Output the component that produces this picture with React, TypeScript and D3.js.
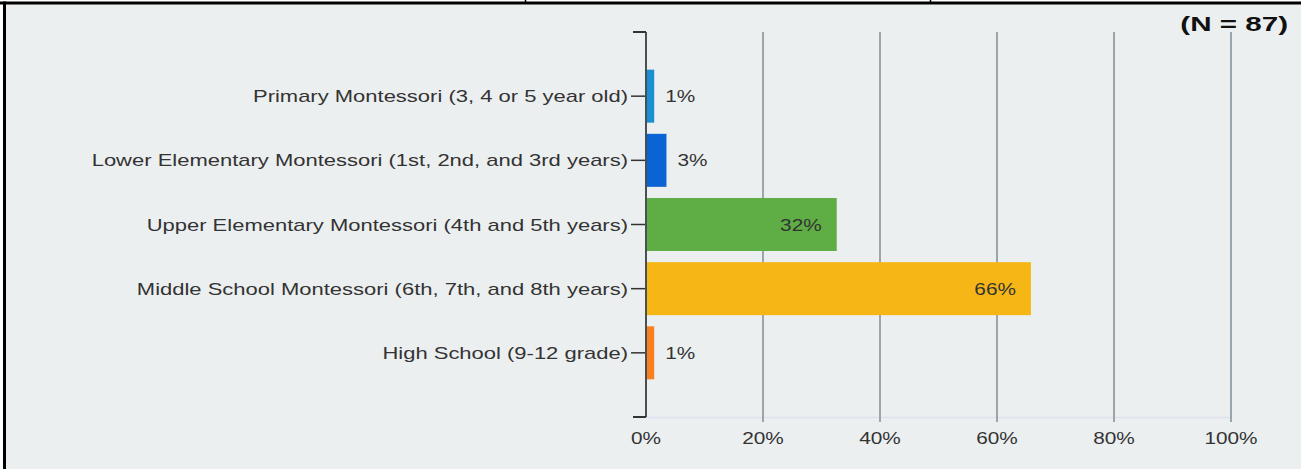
import React from "react";
import * as d3 from "d3";

const categories = [
  "Primary Montessori (3, 4 or 5 year old)",
  "Lower Elementary Montessori (1st, 2nd, and 3rd years)",
  "Upper Elementary Montessori (4th and 5th years)",
  "Middle School Montessori (6th, 7th, and 8th years)",
  "High School (9-12 grade)",
];
const values = [1.4, 3.5, 32.6, 65.8, 1.4];
const valueLabels = ["1%", "3%", "32%", "66%", "1%"];
const barColors = ["#1a8fd2", "#0b64d3", "#5ead45", "#f6b716", "#fa7f1f"];
const xTicks = [0, 20, 40, 60, 80, 100];
const nLabel = "(N = 87)";

const W = 1301;
const H = 469;
const FONT = "'Liberation Sans', Arial, sans-serif";

function SText({ x, y, anchor = "start", size = 16, weight = "normal", fill = "#333", sx = 1.3, children }: any) {
  return (
    <text
      transform={`translate(${x},${y}) scale(${sx},1)`}
      textAnchor={anchor}
      fontSize={size}
      fontWeight={weight}
      fontFamily={FONT}
      fill={fill}
    >
      {children}
    </text>
  );
}

export default function App() {
  const x = d3.scaleLinear().domain([0, 100]).range([646, 1231]);
  const y = d3.scalePoint<string>().domain(categories).range([32, 417]).padding(1);
  const barH = 53;
  const top = 32;
  const bottom = 417;

  return (
    <svg
      width={W}
      height={H}
      style={{ position: "absolute", left: 0, top: 0, background: "#fff" }}
    >
      <rect x={5} y={4} width={W - 5} height={H - 4} fill="#eceff0" />
      <rect x={0} y={1.5} width={W} height={3} fill="#000" />
      <rect x={3} y={1.5} width={3} height={H} fill="#000" />
      <line x1={525.5} x2={525.5} y1={0} y2={2} stroke="#000" strokeWidth={1.5} />
      <line x1={930.5} x2={930.5} y1={0} y2={2} stroke="#000" strokeWidth={1.5} />

      {/* baseline */}
      <line x1={x(0)} x2={x(100)} y1={bottom + 0.5} y2={bottom + 0.5} stroke="#dde0ee" strokeWidth={1.5} />

      {/* gridlines */}
      {xTicks.slice(1).map((t) => (
        <line key={t} x1={x(t)} x2={x(t)} y1={top} y2={bottom + 5} stroke="#9aa6ae" strokeWidth={2} />
      ))}

      {/* bars */}
      {categories.map((c, i) => (
        <rect
          key={c}
          x={x(0)}
          y={(y(c) as number) - barH / 2}
          width={x(values[i]) - x(0)}
          height={barH}
          fill={barColors[i]}
        />
      ))}

      {/* y axis */}
      <line x1={646} x2={646} y1={top} y2={bottom} stroke="#4a4f52" strokeWidth={2} />
      <line x1={633} x2={646} y1={top} y2={top} stroke="#333" strokeWidth={2} />
      <line x1={633} x2={646} y1={bottom} y2={bottom} stroke="#333" strokeWidth={2} />
      {categories.map((c) => (
        <g key={c}>
          <line x1={631} x2={645} y1={y(c)} y2={y(c)} stroke="#333" strokeWidth={1.5} />
          <SText x={628} y={(y(c) as number) + 6} anchor="end" sx={1.375}>
            {c}
          </SText>
        </g>
      ))}

      {/* value labels */}
      {categories.map((c, i) => {
        const w = x(values[i]) - x(0);
        const inside = w > 60;
        return (
          <SText
            key={c}
            x={inside ? x(values[i]) - 15 : x(values[i]) + 11}
            y={(y(c) as number) + 6}
            anchor={inside ? "end" : "start"}
          >
            {valueLabels[i]}
          </SText>
        );
      })}

      {/* x tick labels */}
      {xTicks.map((t) => (
        <SText key={t} x={x(t)} y={444} anchor="middle">
          {`${t}%`}
        </SText>
      ))}

      <SText x={1288} y={31} anchor="end" size={20} weight="bold" fill="#111" sx={1.48}>
        {nLabel}
      </SText>
    </svg>
  );
}
